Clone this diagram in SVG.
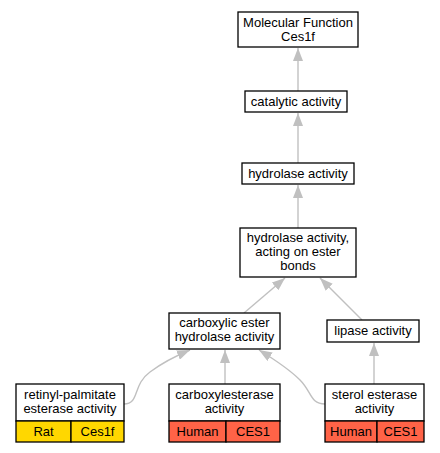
<svg xmlns="http://www.w3.org/2000/svg" width="440" height="453" viewBox="0 0 440 453">
<defs>
<marker id="ah" viewBox="0 0 13 10" refX="13" refY="5" markerWidth="13" markerHeight="10" markerUnits="userSpaceOnUse" orient="auto">
<path d="M0,0 L13,5 L0,10 z" fill="#c0c0c0"/>
</marker>
<style>
.n{fill:#fff;stroke:#000;stroke-width:1.3}
.t{font-family:"Liberation Sans",Arial,sans-serif;font-size:13px;text-anchor:middle;fill:#000}
.e{fill:none;stroke:#c0c0c0;stroke-width:1.4;marker-end:url(#ah)}
.y{fill:#ffd700;stroke:#000;stroke-width:1.3}
.r{fill:#ff6347;stroke:#000;stroke-width:1.3}
</style>
</defs>
<rect width="440" height="453" fill="#fff"/>
<g id="edges">
<path class="e" d="M298,91 L298,48"/>
<path class="e" d="M298,163 L298,113"/>
<path class="e" d="M298,228 L298,185"/>
<path class="e" d="M244,313 L285,278"/>
<path class="e" d="M362,320 L320,278"/>
<path class="e" d="M124,404 C140,404 132,385 150,372 C162,363 178,355 190,350"/>
<path class="e" d="M225,384 L225,350"/>
<path class="e" d="M325,404 C310,404 312,392 300,380 C290,370 272,358 259,350"/>
<path class="e" d="M374,384 L374,343"/>
</g>
<g id="mf">
<rect class="n" x="238" y="12" width="120" height="35"/>
<text class="t" x="298" y="27">Molecular Function</text>
<text class="t" x="298" y="41">Ces1f</text>
</g>
<g id="catalytic">
<rect class="n" x="245" y="91" width="102" height="21"/>
<text class="t" x="296" y="106">catalytic activity</text>
</g>
<g id="hydrolase">
<rect class="n" x="242" y="163" width="112" height="21"/>
<text class="t" x="298" y="178">hydrolase activity</text>
</g>
<g id="hydrolase-ester">
<rect class="n" x="240" y="228" width="116" height="49"/>
<text class="t" x="298" y="242">hydrolase activity,</text>
<text class="t" x="298" y="256">acting on ester</text>
<text class="t" x="298" y="270">bonds</text>
</g>
<g id="carboxylic">
<rect class="n" x="169" y="313" width="111" height="36"/>
<text class="t" x="224.5" y="327">carboxylic ester</text>
<text class="t" x="224.5" y="341">hydrolase activity</text>
</g>
<g id="lipase">
<rect class="n" x="327" y="320" width="92" height="22"/>
<text class="t" x="373" y="335">lipase activity</text>
</g>
<g id="retinyl">
<rect class="n" x="16" y="384" width="108" height="37"/>
<rect class="y" x="16" y="421" width="55" height="21"/>
<rect class="y" x="71" y="421" width="53" height="21"/>
<text class="t" x="70" y="399">retinyl-palmitate</text>
<text class="t" x="70" y="413">esterase activity</text>
<text class="t" x="43.5" y="436">Rat</text>
<text class="t" x="97.5" y="436">Ces1f</text>
</g>
<g id="carboxylesterase">
<rect class="n" x="169" y="384" width="111" height="37"/>
<rect class="r" x="169" y="421" width="57" height="21"/>
<rect class="r" x="226" y="421" width="54" height="21"/>
<text class="t" x="224.5" y="399">carboxylesterase</text>
<text class="t" x="224.5" y="413">activity</text>
<text class="t" x="197.5" y="436">Human</text>
<text class="t" x="253" y="436">CES1</text>
</g>
<g id="sterol">
<rect class="n" x="325" y="384" width="99" height="37"/>
<rect class="r" x="325" y="421" width="52" height="21"/>
<rect class="r" x="377" y="421" width="47" height="21"/>
<text class="t" x="374.5" y="399">sterol esterase</text>
<text class="t" x="374.5" y="413">activity</text>
<text class="t" x="351" y="436">Human</text>
<text class="t" x="400.5" y="436">CES1</text>
</g>
</svg>
